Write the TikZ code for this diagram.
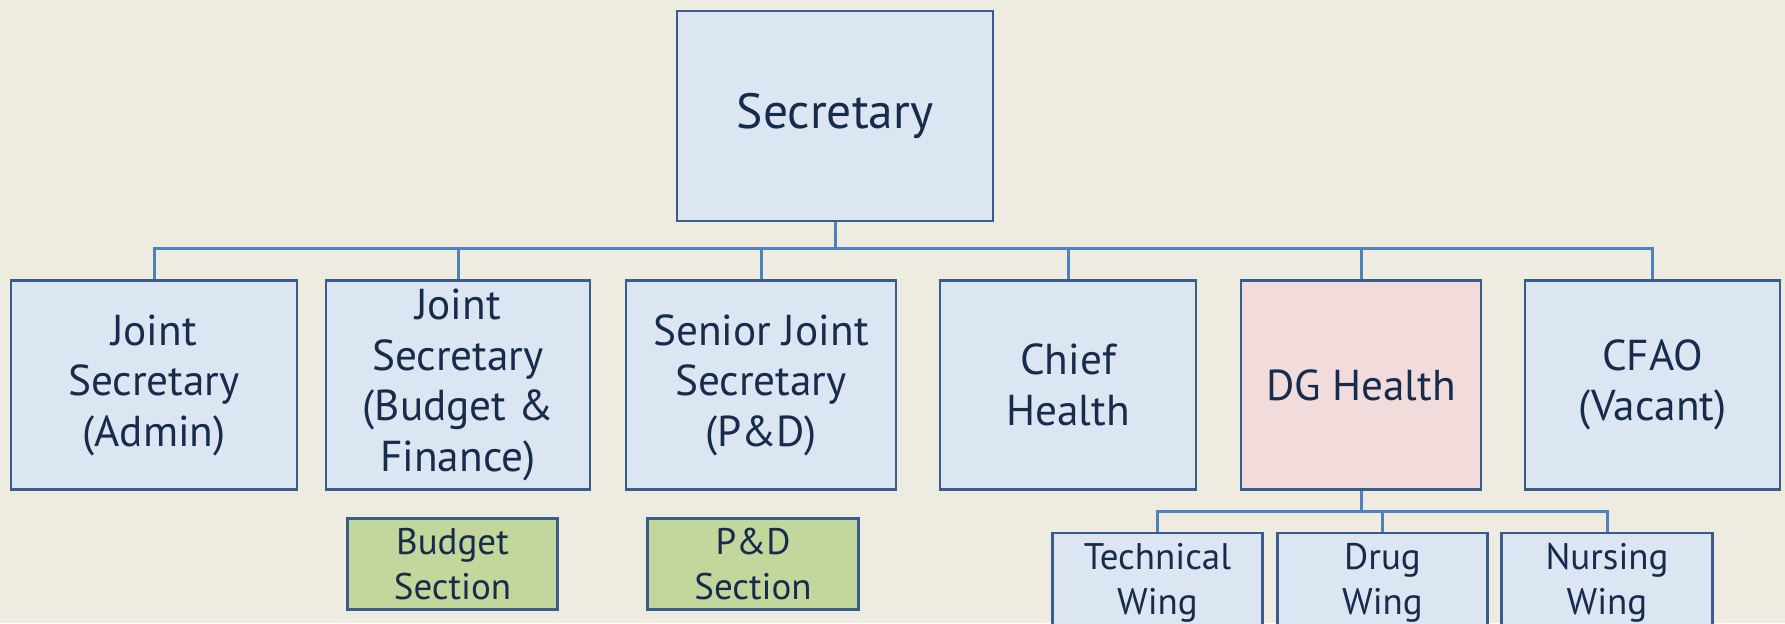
\documentclass[tikz,border=0pt]{standalone}
\usepackage{fontspec}
\setmainfont{PT Sans}
\usetikzlibrary{positioning}
\definecolor{bgcol}{RGB}{238,235,224}
\definecolor{boxfill}{RGB}{220,230,242}
\definecolor{boxline}{RGB}{56,93,138}
\definecolor{linkcol}{RGB}{79,129,189}
\definecolor{dgfill}{RGB}{242,220,219}
\definecolor{secfill}{RGB}{195,214,155}
\definecolor{txtcol}{RGB}{23,43,77}

\begin{document}
\begin{tikzpicture}[x=0.4pt, y=-0.4pt,
    unit/.style={draw=boxline, line width=1.1pt, fill=boxfill, text=txtcol,
        align=center, inner sep=0pt, font=\fontsize{17.3}{20.2}\selectfont,
        minimum height=83.6pt},
    top/.style={unit, font=\fontsize{19.8}{23}\selectfont,
        minimum width=126.4pt, minimum height=84pt},
    small/.style={unit, font=\fontsize{14.8}{18}\selectfont,
        minimum width=84.2pt, minimum height=36.4pt},
    link/.style={draw=linkcol, line width=1.2pt}]
    \clip (0,0) rectangle (1785,623);
    \fill[bgcol] (0,0) rectangle (1785,623);

    \node[top] (sec) at (835,116) {Secretary};

    \node[unit, minimum width=114.4pt] (jsa) at (154,385)
        {Joint\\Secretary\\(Admin)};
    \node[unit, minimum width=105.6pt] (jsb) at (458,385)
        {Joint\\Secretary\\(Budget \&\\Finance)};
    \node[unit, minimum width=108pt] (sjs) at (761,385)
        {Senior Joint\\Secretary\\(P\&D)};
    \node[unit, minimum width=102.4pt] (chief) at (1068,385)
        {Chief\\Health};
    \node[unit, minimum width=96pt, fill=dgfill] (dg) at (1361,385)
        {DG Health};
    \node[unit, minimum width=102pt] (cfao) at (1652.5,385)
        {CFAO\\(Vacant)};

    \node[small, fill=secfill] (bsec) at (452.5,564) {Budget\\Section};
    \node[small, fill=secfill] (pdsec) at (753,564) {P\&D\\Section};

    % wings run off the bottom edge
    \node[small, minimum height=40pt] (tech) at (1157.5,583) {Technical\\Wing};
    \node[small, minimum height=40pt] (drug) at (1382.5,583) {Drug\\Wing};
    \node[small, minimum height=40pt] (nurse) at (1607,583) {Nursing\\Wing};

    \coordinate (bus) at (0,248);
    \coordinate (wbus) at (0,511);

    \foreach \n in {jsa,jsb,sjs,chief,dg,cfao}
        \draw[link] (sec.south) -- (sec.south |- bus) -| (\n.north);
    \foreach \n in {tech,drug,nurse}
        \draw[link] (dg.south) -- (dg.south |- wbus) -| (\n.north);

\end{tikzpicture}
\end{document}
